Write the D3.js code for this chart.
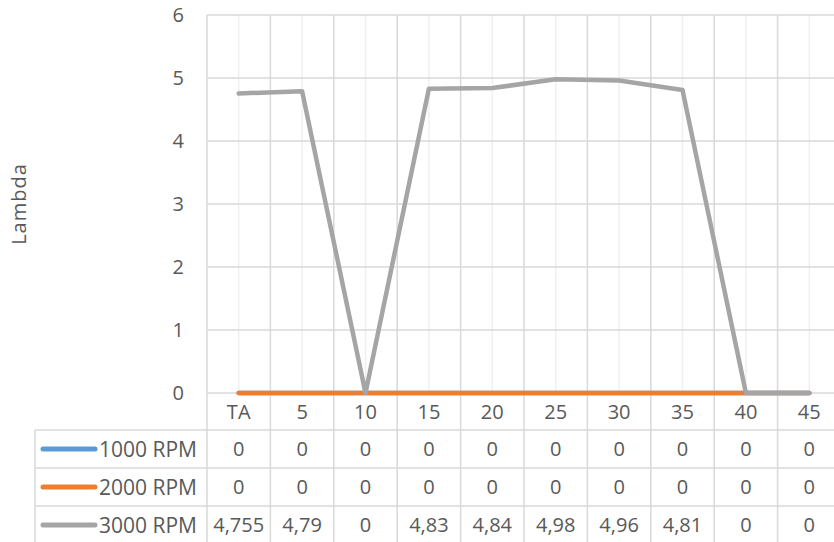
<!DOCTYPE html>
<html>
<head>
<meta charset="utf-8">
<script src="https://cdn.jsdelivr.net/npm/d3@7"></script>
<style>
  body { margin: 0; background: #fff; }
  svg text { font-family: "Open Sans", "Noto Sans", sans-serif; fill: #595959; }
</style>
</head>
<body>
<div id="chart"></div>
<script>
// chart data
const categories = ["TA", "5", "10", "15", "20", "25", "30", "35", "40", "45"];
const seriesNames = ["1000 RPM", "2000 RPM", "3000 RPM"];
const rpm1000 = [0, 0, 0, 0, 0, 0, 0, 0, 0, 0];
const rpm2000 = [0, 0, 0, 0, 0, 0, 0, 0, 0, 0];
const rpm3000 = [4.755, 4.79, 0, 4.83, 4.84, 4.98, 4.96, 4.81, 0, 0];
const rpm3000Labels = ["4,755", "4,79", "0", "4,83", "4,84", "4,98", "4,96", "4,81", "0", "0"];
const yTicks = [0, 1, 2, 3, 4, 5, 6];

const width = 834, height = 542;
const plot = { left: 207, right: 841, top: 15, bottom: 393 };
const rowH = 38, headerH = 37, tableLeft = 35;
const colors = ["#5b9bd5", "#ed7d31", "#a5a5a5"];
const majorGrid = "#d9d9d9", minorGrid = "#f0f0f0";

const series = [rpm1000, rpm2000, rpm3000].map((values, i) => ({
    name: seriesNames[i],
    color: colors[i],
    values: values,
    labels: i == 2 ? rpm3000Labels : values.map(v => String(v))
}));

const x = d3.scaleBand().domain(categories).range([plot.left, plot.right]).padding(0);
const y = d3.scaleLinear().domain([0, 6]).range([plot.bottom, plot.top]);
const xc = c => x(c) + x.bandwidth() / 2;

const svg = d3.select("#chart").append("svg")
    .attr("width", width)
    .attr("height", height);

// minor vertical lines at category centres
svg.append("g")
    .selectAll("line")
    .data(categories)
    .join("line")
    .attr("x1", d => xc(d)).attr("x2", d => xc(d))
    .attr("y1", plot.top).attr("y2", plot.bottom)
    .attr("stroke", minorGrid).attr("stroke-width", 1.5);

// horizontal gridlines
svg.append("g")
    .selectAll("line")
    .data(yTicks)
    .join("line")
    .attr("x1", plot.left).attr("x2", plot.right)
    .attr("y1", d => y(d)).attr("y2", d => y(d))
    .attr("stroke", majorGrid).attr("stroke-width", 1.5);

const tableBottom = plot.bottom + headerH + rowH * series.length;

// vertical category boundaries, running down through the table
svg.append("g")
    .selectAll("line")
    .data(categories.concat(["end"]))
    .join("line")
    .attr("x1", (d, i) => plot.left + i * x.bandwidth())
    .attr("x2", (d, i) => plot.left + i * x.bandwidth())
    .attr("y1", plot.top).attr("y2", tableBottom)
    .attr("stroke", majorGrid).attr("stroke-width", 1.5);

// y axis labels
svg.append("g")
    .attr("text-anchor", "end")
    .selectAll("text")
    .data(yTicks)
    .join("text")
    .attr("x", 184)
    .attr("y", d => y(d))
    .attr("dy", "0.36em")
    .attr("font-size", 20)
    .text(d => d);

// y axis title
svg.append("text")
    .attr("transform", `translate(26, ${(plot.top + plot.bottom) / 2}) rotate(-90)`)
    .attr("text-anchor", "middle")
    .attr("font-size", 20)
    .attr("letter-spacing", 1)
    .text("Lambda");

// lines
const line = d3.line()
    .x((d, i) => xc(categories[i]))
    .y(d => y(d));

svg.append("g")
    .selectAll("path")
    .data(series)
    .join("path")
    .attr("d", d => line(d.values))
    .attr("fill", "none")
    .attr("stroke", d => d.color)
    .attr("stroke-width", 4.5)
    .attr("stroke-linecap", "round")
    .attr("stroke-linejoin", "round");

// data table: category header row
svg.append("g")
    .attr("text-anchor", "middle")
    .selectAll("text")
    .data(categories)
    .join("text")
    .attr("x", d => xc(d))
    .attr("y", plot.bottom + headerH / 2)
    .attr("dy", "0.36em")
    .attr("font-size", 20)
    .text(d => d);

// horizontal table lines
svg.append("g")
    .selectAll("line")
    .data(d3.range(series.length + 1))
    .join("line")
    .attr("x1", tableLeft).attr("x2", plot.right)
    .attr("y1", i => plot.bottom + headerH + i * rowH)
    .attr("y2", i => plot.bottom + headerH + i * rowH)
    .attr("stroke", majorGrid).attr("stroke-width", 1.5);

svg.append("line")
    .attr("x1", tableLeft).attr("x2", tableLeft)
    .attr("y1", plot.bottom + headerH).attr("y2", tableBottom)
    .attr("stroke", majorGrid).attr("stroke-width", 1.5);

const rows = svg.append("g")
    .selectAll("g")
    .data(series)
    .join("g")
    .attr("transform", (d, i) => `translate(0, ${plot.bottom + headerH + i * rowH + rowH / 2})`);

// legend key + series name
rows.append("line")
    .attr("x1", 43).attr("x2", 95)
    .attr("stroke", d => d.color)
    .attr("stroke-width", 5)
    .attr("stroke-linecap", "round");

rows.append("text")
    .attr("x", 99)
    .attr("dy", "0.36em")
    .attr("font-size", 21)
    .text(d => d.name);

rows.append("g")
    .attr("text-anchor", "middle")
    .selectAll("text")
    .data(d => d.labels)
    .join("text")
    .attr("x", (d, i) => xc(categories[i]))
    .attr("dy", "0.36em")
    .attr("font-size", 20)
    .text(d => d);
</script>
</body>
</html>
